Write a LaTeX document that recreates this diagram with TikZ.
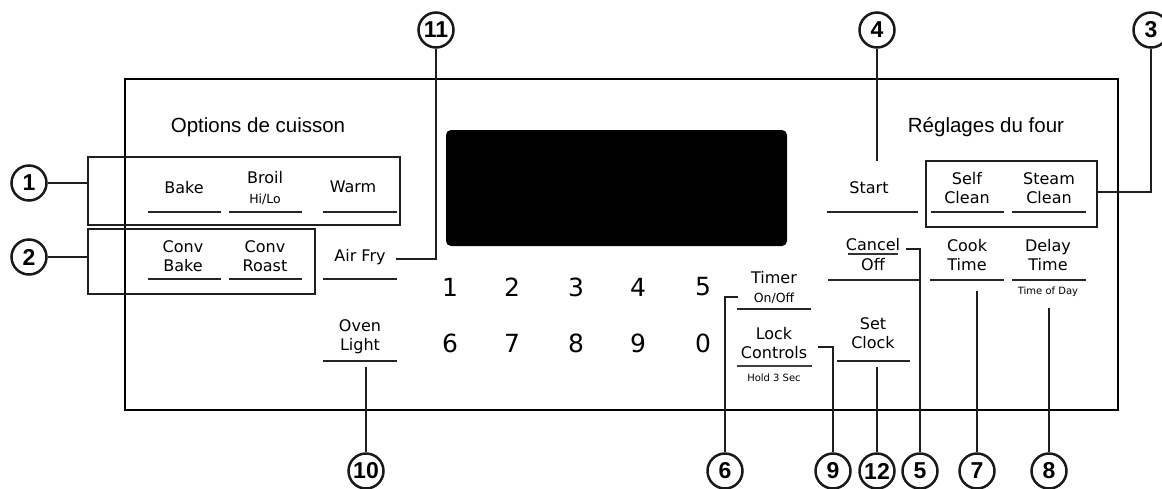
\documentclass[tikz,border=0pt]{standalone}
\usepackage{fontspec}
\setmainfont{Liberation Sans}
\newfontfamily\btnfont{DejaVu Sans}
\begin{document}
\begin{tikzpicture}[x=1pt,y=-1pt,
  callout/.style={circle,draw=black!90,line width=2.5pt,minimum size=35pt,inner sep=0pt,font=\bfseries\fontsize{23}{23}\selectfont},
  lead/.style={line width=2.7pt,black!88},
  grp/.style={draw=black!88,line width=2.9pt},
  uline/.style={line width=1.9pt,black!85},
  lbl/.style={font=\btnfont\fontsize{16}{19}\selectfont,align=center,inner sep=0pt},
  small/.style={font=\btnfont\fontsize{12.5}{14}\selectfont,inner sep=0pt},
  tiny/.style={font=\btnfont\fontsize{10}{12}\selectfont,inner sep=0pt},
  digit/.style={font=\btnfont\fontsize{25}{25}\selectfont,inner sep=0pt},
  head/.style={font=\fontsize{20.5}{22}\selectfont,inner sep=0pt}]
\useasboundingbox (0,0) rectangle (1162,488);
% panel
\draw[line width=1.3pt] (125,79) rectangle (1118,410);
% display
\fill[black,rounded corners=5pt] (446,130) rectangle (787,246);
% headers
\node[head] (hopt) at (258,127) {Options de cuisson};
\node[head] (hreg) at (986,127) {Réglages du four};
% group boxes
\node[grp,minimum width=312pt,minimum height=68pt,inner sep=0pt] (box1) at (244,191) {};
\node[grp,minimum width=227pt,minimum height=65pt,inner sep=0pt] (box2) at (201.5,261.5) {};
\node[grp,minimum width=171pt,minimum height=66pt,inner sep=0pt] (box3) at (1011.5,194) {};
% labels row 1
\node[lbl] (bake) at (184,188) {Bake};
\node[lbl] (broil) at (265,178) {Broil};
\node[small] (hilo) at (265,199) {Hi/Lo};
\node[lbl] (warm) at (353,187) {Warm};
\node[lbl] (start) at (869,188) {Start};
\node[lbl] (self) at (967,188) {Self\\Clean};
\node[lbl] (steam) at (1049,188) {Steam\\Clean};
% labels row 2
\node[lbl] (convbake) at (183,256) {Conv\\Bake};
\node[lbl] (convroast) at (265,256) {Conv\\Roast};
\node[lbl] (airfry) at (360,257) {Air Fry};
\node[lbl] (cancel) at (873,245) {Cancel};
\node[lbl] (off) at (873,265) {Off};
\node[lbl] (cook) at (967,255) {Cook\\Time};
\node[lbl] (delay) at (1048,255) {Delay\\Time};
\node[tiny] (tod) at (1048,292) {Time of Day};
% labels lower rows
\node[lbl] (timer) at (774,278) {Timer};
\node[small] (onoff) at (774,298) {On/Off};
\node[lbl] (oven) at (360,337) {Oven\\Light};
\node[lbl] (lock) at (774,343) {Lock\\Controls};
\node[tiny] (hold) at (774,378) {Hold 3 Sec};
\node[lbl] (setclock) at (873,333) {Set\\Clock};
% digits
\foreach \d/\x/\y in {1/450/287,2/512/287,3/576/287,4/638/287,5/703/287,6/450/343,7/512/343,8/576/343,9/638/343,0/703/343}
  \node[digit] (k\d) at (\x,\y) {\d};
% underlines
\foreach \a/\b/\y in {148/221/212,229/302/212,323/397/212,827/918/212,931/1004/212,1012/1086/212,
  148/221/279,229/302/279,323/397/279,828/920/280,930/1004/280,1012/1086/280,
  737/811/309,323/397/361,837/910/361}
  \draw[uline] (\a,\y) -- (\b,\y);
\draw[line width=1.3pt,black!75] (737,366) -- (812,366);
\draw[line width=1.3pt,black!80] (848,254) -- (898,254);
% callouts
\node[callout] (c1) at (29,183) {1};
\node[callout] (c2) at (29,257) {2};
\node[callout] (c3) at (1151,30) {3};
\node[callout] (c4) at (877,30) {4};
\node[callout] (c11) at (436,30) {11};
\node[callout] (c10) at (366,471) {10};
\node[callout] (c6) at (725,471) {6};
\node[callout] (c9) at (833,471) {9};
\node[callout] (c12) at (877,471) {12};
\node[callout] (c5) at (920,471) {5};
\node[callout] (c7) at (977,471) {7};
\node[callout] (c8) at (1049,471) {8};
% connector end points
\coordinate (e3) at (1097,192);
\coordinate (e4) at (877,161);
\coordinate (e11) at (396,259);
\coordinate (e10) at (366,367);
\coordinate (e6) at (738,297);
\coordinate (e9) at (818,347);
\coordinate (e12) at (877,367);
\coordinate (e5) at (906,249);
\coordinate (e7) at (977,291);
\coordinate (e8) at (1049,308);
\draw[lead] (c1.east) -- (box1.west|-c1);
\draw[lead] (c2.east) -- (box2.west|-c2);
\draw[lead] (c3.south) |- (e3);
\draw[lead] (c4.south) -- (e4);
\draw[lead] (c11.south) |- (e11);
\draw[lead] (c10.north) -- (e10);
\draw[lead] (c6.north) |- (e6);
\draw[lead] (c9.north) |- (e9);
\draw[lead] (c12.north) -- (e12);
\draw[lead] (c5.north) |- (e5);
\draw[lead] (c7.north) -- (e7);
\draw[lead] (c8.north) -- (e8);
\end{tikzpicture}
\end{document}
